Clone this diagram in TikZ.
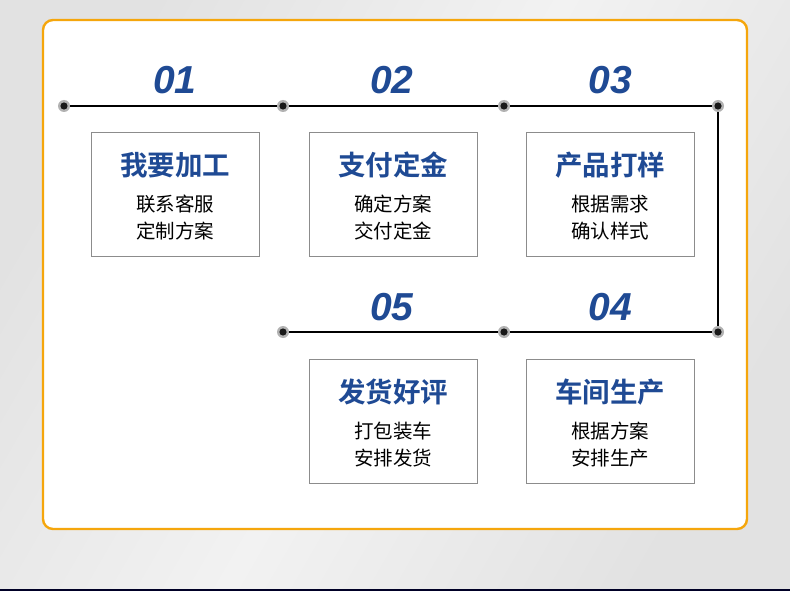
\documentclass[tikz,border=0pt]{standalone}
\usepackage{fontspec}
\newfontfamily\cjk{Noto Sans CJK SC}
\newfontfamily\cjkb{Noto Sans CJK SC Bold}
\newfontfamily\numfont{Liberation Sans}
\definecolor{orangeb}{HTML}{F5A60C}
\definecolor{blued}{HTML}{1F4A94}
\definecolor{bgl}{HTML}{F2F2F2}
\definecolor{bgd}{HTML}{E2E2E2}
\definecolor{boxg}{HTML}{8C8C8C}
\begin{document}
\begin{tikzpicture}[x=1pt,y=-1pt,
  flowline/.style={line width=1.1pt,black},
  stepbox/.style={draw=boxg,line width=1.1pt,fill=white,minimum width=168pt,minimum height=124pt,anchor=north west,inner sep=0pt},
  numlabel/.style={font=\numfont\bfseries\itshape\fontsize{39}{39}\selectfont,text=blued},
  titletext/.style={font=\cjkb\fontsize{27.5}{27.5}\selectfont,text=blued},
  subtext/.style={font=\cjk\fontsize{19.5}{27}\selectfont,text=black,align=center},
  dotouter/.style={circle,minimum size=12pt,inner sep=0pt},
]
\useasboundingbox (0,0) rectangle (790,591);
\shade[left color=bgd,right color=bgd,middle color=bgl,shading angle=60] (0,0) rectangle (790,591);
\fill[black!85!blue] (0,588.5) rectangle (790,591);
\draw[orangeb,line width=2.4pt,fill=white,rounded corners=10pt] (43,20) rectangle (747,529);

% dots
\foreach \n/\x/\y in {d1/64/106,d2/283/106,d3/504/106,d4/718/106,e4/718/332,e3/504/332,e2/283/332}{
  \node[dotouter] (\n) at (\x,\y) {};
}
\draw[flowline] (d1.center) -- (d2.center) -- (d3.center) -- (d4.center) -- (e4.center) -- (e3.center) -- (e2.center);
\foreach \n/\x/\y in {d1/64/106,d2/283/106,d3/504/106,d4/718/106,e4/718/332,e3/504/332,e2/283/332}{
  \fill[gray!60] (\x,\y) circle (6pt);
  \fill[black!90] (\x,\y) circle (3.6pt);
}

% numbers
\node[numlabel] (n1) at (175,80) {01};
\node[numlabel] (n2) at (392,80) {02};
\node[numlabel] (n3) at (610,80) {03};
\node[numlabel] (n5) at (392,307) {05};
\node[numlabel] (n4) at (610,307) {04};

% boxes
\node[stepbox] (b1) at (91,132) {};
\node[stepbox] (b2) at (309,132) {};
\node[stepbox] (b3) at (526,132) {};
\node[stepbox] (b5) at (309,359) {};
\node[stepbox] (b4) at (526,359) {};

\node[titletext] (t1) at (175,165) {我要加工};
\node[subtext] (s1) at (175,218) {联系客服\\定制方案};
\node[titletext] (t2) at (393,165) {支付定金};
\node[subtext] (s2) at (393,218) {确定方案\\交付定金};
\node[titletext] (t3) at (610,165) {产品打样};
\node[subtext] (s3) at (610,218) {根据需求\\确认样式};
\node[titletext] (t5) at (393,392) {发货好评};
\node[subtext] (s5) at (393,445) {打包装车\\安排发货};
\node[titletext] (t4) at (610,392) {车间生产};
\node[subtext] (s4) at (610,445) {根据方案\\安排生产};
\end{tikzpicture}
\end{document}
